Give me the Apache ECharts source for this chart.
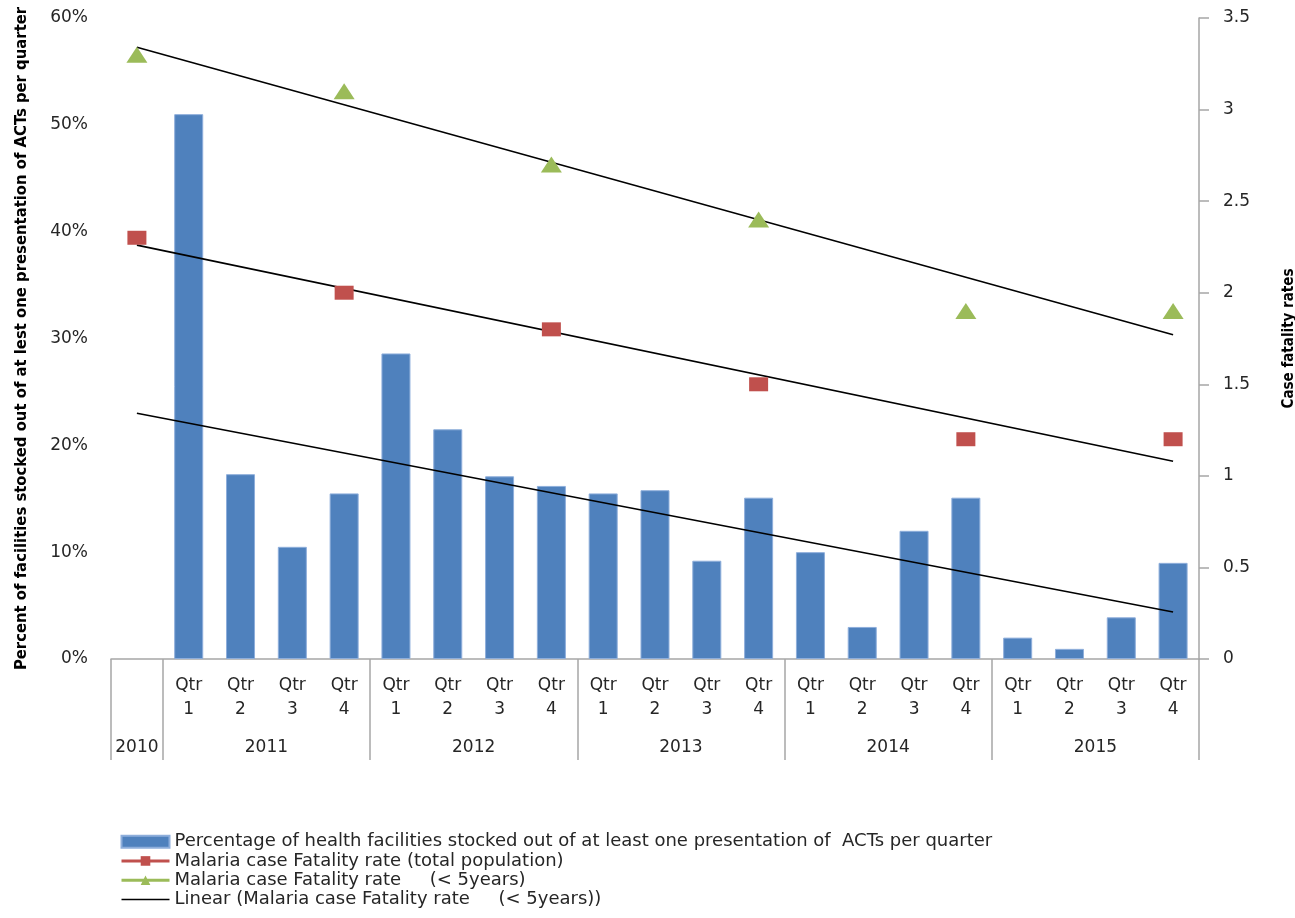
<!DOCTYPE html>
<html>
<head>
<meta charset="utf-8">
<title>ACT stock-outs and malaria case fatality</title>
<script src="https://cdn.jsdelivr.net/npm/echarts@6/dist/echarts.min.js"></script>
<style>
  html, body { margin: 0; padding: 0; background: #fff; }
  #chart { width: 1295px; height: 918px; }
</style>
</head>
<body>
<div id="chart"></div>
<script>
// categories (2010 has no quarter breakdown)
const quarterLabels = ['',
  'Qtr\n1', 'Qtr\n2', 'Qtr\n3', 'Qtr\n4',
  'Qtr\n1', 'Qtr\n2', 'Qtr\n3', 'Qtr\n4',
  'Qtr\n1', 'Qtr\n2', 'Qtr\n3', 'Qtr\n4',
  'Qtr\n1', 'Qtr\n2', 'Qtr\n3', 'Qtr\n4',
  'Qtr\n1', 'Qtr\n2', 'Qtr\n3', 'Qtr\n4']
const yearLabels = ['2010', '2011', '2012', '2013', '2014', '2015']
const yearSpans = [1, 4, 4, 4, 4, 4]

// percent of facilities stocked out (left axis)
const stockout = [null,
  51.0, 17.3, 10.5, 15.5,
  28.6, 21.5, 17.1, 16.2,
  15.5, 15.8, 9.2, 15.1,
  10.0, 3.0, 12.0, 15.1,
  2.0, 0.95, 3.9, 9.0]

// case fatality rates (right axis)
const fatalityTotal = [2.3,
  null, null, null, 2.0,
  null, null, null, 1.8,
  null, null, null, 1.5,
  null, null, null, 1.2,
  null, null, null, 1.2]
const fatalityUnder5 = [3.3,
  null, null, null, 3.1,
  null, null, null, 2.7,
  null, null, null, 2.4,
  null, null, null, 1.9,
  null, null, null, 1.9]

// linear trend lines, endpoints
const trendUnder5 = [3.34, null, null, null, null, null, null, null, null, null,
  null, null, null, null, null, null, null, null, null, null, 1.77]
const trendTotal = [2.26, null, null, null, null, null, null, null, null, null,
  null, null, null, null, null, null, null, null, null, null, 1.08]
const trendStockout = [23.0, null, null, null, null, null, null, null, null, null,
  null, null, null, null, null, null, null, null, null, null, 4.4]

const nameBars = 'Percentage of health facilities stocked out of at least one presentation of  ACTs per quarter'
const nameTotal = 'Malaria case Fatality rate (total population)'
const nameUnder5 = 'Malaria case Fatality rate     (< 5years)'
const nameTrend = 'Linear (Malaria case Fatality rate     (< 5years))'

// year level of the axis: half-category slots so labels sit mid-group and ticks on group edges
const yearSlots = new Array(quarterLabels.length * 2 + 1).fill('')
const yearEdges = [0]
let start = 0
yearLabels.forEach((y, i) => {
  yearSlots[2 * start + yearSpans[i]] = y
  start += yearSpans[i]
  yearEdges.push(2 * start)
})

const textColor = '#262626'
const lineGray = '#a6a6a6'
const labelFont = 'DejaVu Sans'
const titleFont = '"Liberation Sans Narrow", "DejaVu Sans Condensed", sans-serif'

const myChart = echarts.init(document.getElementById('chart'))
const option = {
  backgroundColor: '#fff',
  animation: false,
  grid: { left: 111, right: 96, top: 18, bottom: 259, outerBoundsMode: 'none', containLabel: false },
  legend: {
    orient: 'vertical',
    left: 120,
    top: 832,
    padding: 0,
    itemGap: 0,
    itemWidth: 48,
    itemHeight: 12,
    textStyle: { color: textColor, fontFamily: labelFont, fontSize: 18, lineHeight: 19.3 },
    data: [
      { name: nameBars, icon: 'rect' },
      { name: nameTotal, lineStyle: { opacity: 1, width: 3, color: '#c0504d' } },
      { name: nameUnder5, lineStyle: { opacity: 1, width: 3, color: '#9bbb59' } },
      {
        name: nameTrend,
        itemStyle: { opacity: 0, color: 'transparent', borderWidth: 0 },
        lineStyle: { opacity: 1, width: 1.5, color: '#000' }
      }
    ]
  },
  xAxis: [
    {
      type: 'category',
      data: quarterLabels,
      axisLine: { lineStyle: { color: lineGray, width: 1.5 } },
      axisTick: { show: false },
      axisLabel: {
        interval: 0,
        margin: 15,
        color: textColor,
        fontFamily: labelFont,
        fontSize: 17,
        lineHeight: 24
      }
    },
    {
      type: 'category',
      position: 'bottom',
      boundaryGap: false,
      data: yearSlots,
      axisLine: { show: false },
      axisTick: {
        length: 101,
        interval: (idx) => yearEdges.includes(idx),
        lineStyle: { color: lineGray, width: 1.5 }
      },
      axisLabel: {
        interval: 0,
        margin: 80,
        color: textColor,
        fontFamily: labelFont,
        fontSize: 17
      }
    }
  ],
  yAxis: [
    {
      type: 'value',
      min: 0,
      max: 60,
      interval: 10,
      name: 'Percent of facilities stocked out of at lest one presentation of ACTs per quarter',
      nameLocation: 'middle',
      nameGap: 81,
      nameRotate: 90,
      nameTextStyle: { color: '#000', fontFamily: titleFont, fontWeight: 'bold', fontSize: 16.5 },
      axisLine: { show: false },
      axisTick: { show: false },
      splitLine: { show: false },
      axisLabel: {
        formatter: '{value}%',
        margin: 23,
        color: textColor,
        fontFamily: labelFont,
        fontSize: 17
      }
    },
    {
      type: 'value',
      min: 0,
      max: 3.5,
      interval: 0.5,
      position: 'right',
      name: 'Case fatality rates',
      nameLocation: 'middle',
      nameGap: 83,
      nameRotate: 90,
      nameTextStyle: { color: '#000', fontFamily: titleFont, fontWeight: 'bold', fontSize: 15 },
      axisLine: { show: true, lineStyle: { color: lineGray, width: 1.5 } },
      axisTick: { show: true, length: 10, lineStyle: { color: lineGray, width: 1.5 } },
      splitLine: { show: false },
      axisLabel: {
        margin: 24,
        color: textColor,
        fontFamily: labelFont,
        fontSize: 17
      }
    }
  ],
  series: [
    {
      name: nameBars,
      type: 'bar',
      data: stockout,
      barWidth: '56%',
      itemStyle: { color: '#4f81bd', borderColor: '#8eaedb', borderWidth: 1 }
    },
    {
      name: nameTrend + ' (stock-out)',
      type: 'line',
      data: trendStockout,
      connectNulls: true,
      symbol: 'none',
      lineStyle: { color: '#000', width: 1.6 },
      z: 3
    },
    {
      name: nameTotal,
      type: 'line',
      yAxisIndex: 1,
      data: fatalityTotal,
      symbol: 'rect',
      symbolSize: [19, 14],
      itemStyle: { color: '#c0504d' },
      lineStyle: { opacity: 0 },
      connectNulls: false
    },
    {
      name: nameUnder5,
      type: 'line',
      yAxisIndex: 1,
      data: fatalityUnder5,
      symbol: 'triangle',
      symbolSize: [21, 16],
      itemStyle: { color: '#9bbb59' },
      lineStyle: { opacity: 0 },
      connectNulls: false
    },
    {
      name: nameTrend + ' (total)',
      type: 'line',
      yAxisIndex: 1,
      data: trendTotal,
      connectNulls: true,
      symbol: 'none',
      lineStyle: { color: '#000', width: 1.6 }
    },
    {
      name: nameTrend,
      type: 'line',
      yAxisIndex: 1,
      data: trendUnder5,
      connectNulls: true,
      symbol: 'none',
      itemStyle: { color: '#000' },
      lineStyle: { color: '#000', width: 1.6 }
    }
  ]
}
myChart.setOption(option)
</script>
</body>
</html>
